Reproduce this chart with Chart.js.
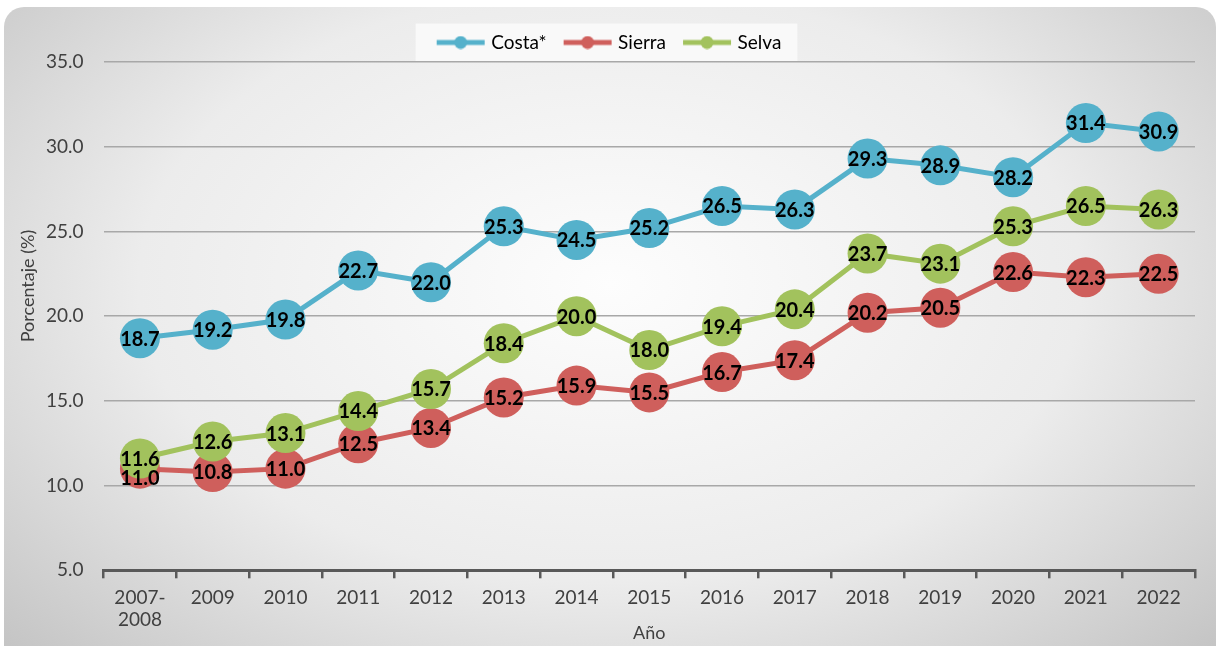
<!DOCTYPE html>
<html>
<head>
<meta charset="utf-8">
<script src="https://cdn.jsdelivr.net/npm/chart.js@4.4.1/dist/chart.umd.min.js"></script>
<style>
html, body { margin: 0; padding: 0; background: #fff; }
#panel { position: absolute; left: 4px; top: 7px; width: 1212px; height: 660px; border-radius: 20px;
  background: radial-gradient(ellipse at 50% 42%, #fdfdfd 0%, #ececec 55%, #c2c2c2 100%); }
#wrap { position: absolute; left: 0; top: 0; width: 1220px; height: 646px; }
</style>
</head>
<body>
<div id="panel"></div>
<div id="wrap"><canvas id="grafico"></canvas></div>
<script>
// datos
var anios = [["2007-", "2008"], "2009", "2010", "2011", "2012", "2013", "2014", "2015", "2016", "2017", "2018", "2019", "2020", "2021", "2022"];
var costa = [18.7, 19.2, 19.8, 22.7, 22.0, 25.3, 24.5, 25.2, 26.5, 26.3, 29.3, 28.9, 28.2, 31.4, 30.9];
var sierra = [11.0, 10.8, 11.0, 12.5, 13.4, 15.2, 15.9, 15.5, 16.7, 17.4, 20.2, 20.5, 22.6, 22.3, 22.5];
var selva = [11.6, 12.6, 13.1, 14.4, 15.7, 18.4, 20.0, 18.0, 19.4, 20.4, 23.7, 23.1, 25.3, 26.5, 26.3];
var yTicks = [5, 10, 15, 20, 25, 30, 35];

var colCosta = "#55b1cb", colSierra = "#cf5f5c", colSelva = "#a2c25d";
var fuente = "Lato, 'Open Sans', sans-serif";

function marcador(color) {
	var c = document.createElement('canvas');
	c.width = 50; c.height = 14;
	var g = c.getContext('2d');
	g.strokeStyle = color; g.lineWidth = 5;
	g.beginPath(); g.moveTo(1, 7); g.lineTo(49, 7); g.stroke();
	g.fillStyle = color;
	g.beginPath(); g.arc(25, 7, 6.5, 0, Math.PI * 2); g.fill();
	return c;
}
var marcas = [marcador(colCosta), marcador(colSierra), marcador(colSelva)];

// fondo del cuadro de leyenda
var fondoLeyenda = {
	id: 'fondoLeyenda',
	beforeDraw: function(chart) {
		var l = chart.legend, ctx = chart.ctx;
		var hb = l.legendHitBoxes;
		if (!hb || !hb.length) return;
		var x0 = hb[0].left, x1 = hb[hb.length - 1].left + hb[hb.length - 1].width;
		var yc = hb[0].top + hb[0].height / 2;
		ctx.save();
		ctx.fillStyle = "rgba(250,250,250,0.92)";
		ctx.fillRect(x0 - 24, yc - 19, x1 - x0 + 40, 38);
		ctx.restore();
	}
};

// etiquetas de datos y títulos de ejes
var etiquetas = {
	id: 'etiquetas',
	afterDatasetsDraw: function(chart) {
		var ctx = chart.ctx;
		ctx.save();
		ctx.font = "bold 20px " + fuente;
		ctx.fillStyle = "#000";
		ctx.textAlign = "center";
		ctx.textBaseline = "middle";
		var sel = chart.getDatasetMeta(2).data;
		[1, 2, 0].forEach(function(i) {
			var ds = chart.data.datasets[i];
			chart.getDatasetMeta(i).data.forEach(function(p, j) {
				var y = p.y + 1;
				// si la etiqueta de Sierra choca con la de Selva, bajarla un poco
				if (i === 1 && Math.abs(sel[j].y - p.y) < 18) y = sel[j].y + 20;
				ctx.fillText(ds.data[j].toFixed(1), p.x, y);
			});
		});
		ctx.restore();
	},
	afterDraw: function(chart) {
		var ctx = chart.ctx, a = chart.chartArea;
		ctx.save();
		ctx.font = "18px " + fuente;
		ctx.fillStyle = "#404040";
		ctx.textAlign = "center";
		ctx.textBaseline = "middle";
		ctx.fillText("Año", (a.left + a.right) / 2, 633);
		ctx.translate(28, 286);
		ctx.rotate(-Math.PI / 2);
		ctx.fillText("Porcentaje (%)", 0, 0);
		ctx.restore();
	}
};

new Chart(document.getElementById("grafico"), {
	type: 'line',
	data: {
		labels: anios,
		datasets: [
			{ label: "Costa*", data: costa, borderColor: colCosta, backgroundColor: colCosta, order: 0 },
			{ label: "Sierra", data: sierra, borderColor: colSierra, backgroundColor: colSierra, order: 2 },
			{ label: "Selva", data: selva, borderColor: colSelva, backgroundColor: colSelva, order: 1 }
		]
	},
	options: {
		responsive: true,
		maintainAspectRatio: false,
		animation: false,
		events: [],
		layout: { padding: { left: 26, right: 25, top: 13, bottom: 6 } },
		elements: {
			line: { borderWidth: 5, tension: 0 },
			point: { radius: 20, borderWidth: 0, hoverRadius: 20 }
		},
		plugins: {
			tooltip: { enabled: false },
			legend: {
				position: 'top',
				labels: {
					usePointStyle: true,
					pointStyleWidth: 42,
					padding: 20,
					color: "#000",
					font: { family: fuente, size: 19 },
					sort: function(a, b) { return a.datasetIndex - b.datasetIndex; },
					generateLabels: function(chart) {
						var items = Chart.defaults.plugins.legend.labels.generateLabels(chart);
						items.forEach(function(it) { it.pointStyle = marcas[it.datasetIndex]; });
						return items;
					}
				}
			}
		},
		scales: {
			x: {
				offset: true,
				grid: { offset: true, drawOnChartArea: false, drawTicks: true, tickLength: 8, color: "#595959", lineWidth: 2.5 },
				border: { color: "#595959", width: 3 },
				ticks: { color: "#404040", padding: 9, maxRotation: 0, autoSkip: false, font: { family: fuente, size: 19, lineHeight: 1.15 } }
			},
			y: {
				min: 5,
				max: 35,
				afterBuildTicks: function(axis) { axis.ticks = yTicks.map(function(v) { return { value: v }; }); },
				grid: { color: "#a8a8a8", lineWidth: 1.5, drawTicks: false },
				border: { display: false },
				ticks: {
					color: "#404040",
					padding: 20,
					font: { family: fuente, size: 19 },
					callback: function(v) { return Number(v).toFixed(1); }
				}
			}
		}
	},
	plugins: [fondoLeyenda, etiquetas]
});
</script>
</body>
</html>
